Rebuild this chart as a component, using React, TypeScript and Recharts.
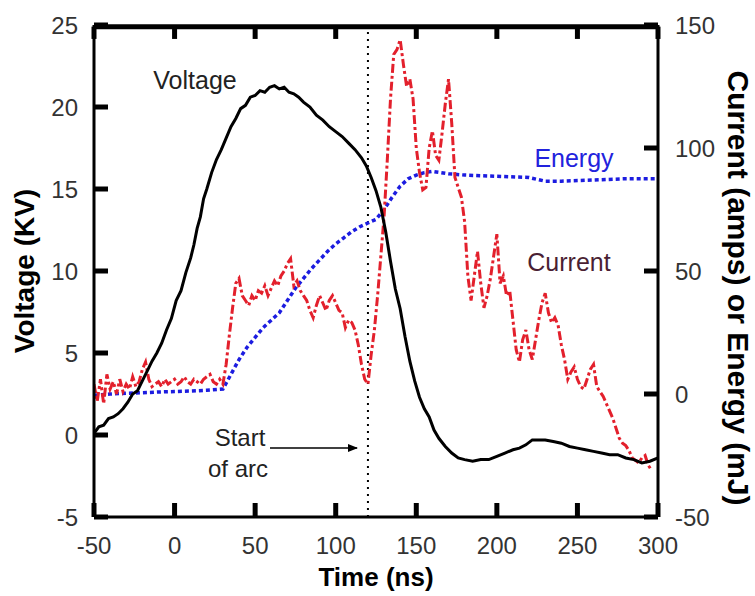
import React from "react"
import { LineChart, Line, XAxis, YAxis, ReferenceLine } from "recharts"

// time axis ticks (ns) and value axis ticks
const timeTicks = [-50, 0, 50, 100, 150, 200, 250, 300]
const voltTicks = [-5, 0, 5, 10, 15, 20, 25]
const ampTicks = [-50, 0, 50, 100, 150]

// Voltage (KV)
const voltTime = [
  -50, -47, -44, -41, -38, -35, -32, -29, -26, -23, -20, -17, -14, -11, -8, -5, -2, 1, 4, 7, 10, 12,
  14, 16, 18, 20, 23, 26, 29, 32, 35, 38, 41, 44, 47, 50, 53, 56, 59, 62, 65, 68, 71, 74, 77, 80, 84,
  88, 92, 96, 100, 104, 108, 112, 116, 119, 122, 125, 128, 131, 134, 137, 140, 143, 146, 149, 152,
  155, 158, 161, 164, 168, 172, 176, 180, 185, 190, 195, 200, 205, 210, 214, 218, 222, 226, 230, 235,
  240, 245, 250, 255, 260, 265, 270, 275, 280, 285, 290, 295, 300,
]
const voltage = [
  0.1, 0.5, 0.6, 1.0, 1.1, 1.3, 1.6, 2.0, 2.5, 2.7, 3.3, 3.9, 4.5, 5.0, 5.6, 6.4, 7.1, 8.2, 8.8, 9.9,
  10.8, 11.6, 12.6, 13.3, 14.4, 15.0, 16.0, 16.8, 17.4, 18.1, 18.8, 19.3, 19.9, 20.1, 20.6, 20.7, 21.0,
  20.9, 21.2, 21.3, 21.1, 21.2, 20.9, 20.8, 20.6, 20.3, 20.0, 19.5, 19.2, 18.8, 18.5, 18.2, 17.8, 17.4,
  16.9, 16.4, 15.7, 14.9, 13.9, 12.4, 10.6, 8.9, 7.7, 6.0, 4.5, 3.3, 2.3, 1.6, 1.1, 0.3, -0.2, -0.7,
  -1.1, -1.4, -1.5, -1.6, -1.5, -1.5, -1.3, -1.1, -0.9, -0.8, -0.6, -0.3, -0.3, -0.3, -0.4, -0.5, -0.7,
  -0.8, -0.9, -1.0, -1.1, -1.2, -1.2, -1.4, -1.5, -1.7, -1.6, -1.4,
]

// Energy (mJ)
const energyTime = [
  -50, -40, -30, -20, -10, 0, 10, 20, 30, 35, 40, 45, 50, 55, 60, 65, 70, 75, 80, 85, 90, 95, 100, 105,
  110, 115, 120, 125, 130, 135, 140, 145, 150, 155, 160, 165, 170, 180, 200, 220, 230, 240, 260, 280, 300,
]
const energy = [
  -0.5, 0, 0.3, 0.5, 0.8, 1, 1.2, 1.5, 2, 8, 14, 19, 23, 27, 30, 33, 38, 43, 47, 51, 54.5, 58, 61, 63.5,
  66, 68, 69.5, 71, 75, 80, 84.5, 87.5, 89, 90, 90.5, 90, 89.5, 89, 88.5, 88, 86.5, 86.5, 87, 87.5, 87.5,
]

// Current (amps)
const currentTime = [
  -50, -48, -46, -44, -42, -40, -38, -36, -34, -32, -30, -28, -26, -24, -22, -20, -18, -16, -14, -12,
  -10, -8, -6, -4, -2, 0, 2, 4, 6, 8, 10, 12, 14, 16, 18, 20, 22, 24, 26, 28, 30, 32, 34, 36, 38, 40,
  42, 44, 46, 48, 50, 52, 54, 56, 58, 60, 62, 64, 66, 68, 70, 72, 74, 76, 78, 80, 82, 84, 86, 88, 90,
  92, 94, 96, 98, 100, 102, 104, 106, 108, 110, 112, 114, 116, 118, 120, 122, 124, 126, 128, 130, 132,
  134, 136, 138, 140, 142, 144, 146, 148, 150, 152, 154, 156, 158, 160, 162, 164, 166, 168, 170, 172,
  174, 176, 178, 180, 182, 184, 186, 188, 190, 192, 194, 196, 198, 200, 202, 204, 206, 208, 210, 212,
  214, 216, 218, 220, 222, 224, 226, 228, 230, 232, 234, 236, 238, 240, 242, 244, 246, 248, 250, 252,
  254, 256, 258, 260, 262, 264, 266, 268, 270, 272, 274, 276, 278, 280, 282, 284, 286, 288, 290, 292,
  294, 296,
]
const current = [
  4, -3, 6, -4, 8, 2, 5, 0, 6, 1, 4, 2, 7, 3, 5, 10, 13, 6, 3, 4,
  5, 3, 6, 4, 5, 6, 4, 5, 7, 5, 4, 6, 5, 4, 6, 7, 8, 5, 4, 6, 4, 12, 24, 35, 45, 47,
  40, 38, 36, 40, 38, 42, 41, 44, 40, 43, 46, 44, 48, 50, 53, 55, 44, 46, 42, 40, 38, 34, 31, 36, 40,
  37, 34, 38, 40, 37, 34, 33, 27, 30, 29, 26, 20, 12, 6, 4, 16, 26, 40, 56, 72, 95,
  120, 138, 140, 144, 134, 125, 128, 120, 100, 90, 83, 84, 100, 107, 97, 95, 106, 118, 128, 110,
  88, 84, 80, 70, 48, 38, 48, 58, 45, 35, 40, 47, 56, 65, 45, 48, 40, 42, 30, 18,
  13, 22, 26, 18, 14, 22, 30, 37, 41, 33, 29, 31, 28, 20, 14, 6, 9, 11, 6, 3,
  2, 6, 10, 12, 3, 1, -1, -4, -7, -10, -14, -18, -20, -21, -23, -26, -27, -28, -26, -25,
  -29, -31,
]

const arcStart = 120

const voltData = voltTime.map((t, i) => ({ t, v: voltage[i] }))
const energyData = energyTime.map((t, i) => ({ t, e: energy[i] }))
const currentData = currentTime.map((t, i) => ({ t, a: current[i] }))

const FONT = "'Liberation Sans', Arial, sans-serif"
const TICK = 14 // inward tick length, px
const TOP_TICK = 0.85 // same length in KV for the top edge ticks
const INK = "#000"

const BottomTick = (props: any) => {
  const { x, y, payload } = props
  return (
    <text x={x} y={y} textAnchor="middle" dominantBaseline="central" fontSize={24} fill="#333" fontFamily={FONT}>
      {payload.value}
    </text>
  )
}

const LeftTick = (props: any) => {
  const { x, y, payload } = props
  return (
    <text x={x} y={y} textAnchor="end" dominantBaseline="central" fontSize={24} fill="#333" fontFamily={FONT}>
      {payload.value}
    </text>
  )
}

const RightTick = (props: any) => {
  const { x, y, payload } = props
  return (
    <text x={x} y={y} textAnchor="start" dominantBaseline="central" fontSize={24} fill="#333" fontFamily={FONT}>
      {payload.value}
    </text>
  )
}

const axisLine = { stroke: "#000", strokeWidth: 3 }
const tickLine = { stroke: INK, strokeWidth: 5 }

export default function App() {
  return (
    <div style={{ position: "absolute", left: 0, top: 0, width: 755, height: 596, background: "#fff" }}>
      <LineChart width={755} height={596} margin={{ top: 25, right: 37, bottom: 39, left: 34 }}>
        <XAxis
          xAxisId="b"
          type="number"
          dataKey="t"
          domain={[-50, 300]}
          ticks={timeTicks}
          interval={0}
          allowDataOverflow
          tickSize={-TICK}
          tickMargin={TICK + 28}
          tick={BottomTick}
          tickLine={tickLine}
          axisLine={axisLine}
          height={40}
        />
        <YAxis
          yAxisId="v"
          type="number"
          domain={[-5, 25]}
          ticks={voltTicks}
          interval={0}
          allowDataOverflow
          tickSize={-TICK}
          tickMargin={TICK + 16}
          tick={LeftTick}
          tickLine={tickLine}
          axisLine={axisLine}
          width={60}
        />
        <YAxis
          yAxisId="i"
          orientation="right"
          type="number"
          domain={[-50, 150]}
          ticks={ampTicks}
          interval={0}
          allowDataOverflow
          tickSize={-TICK}
          tickMargin={TICK + 17}
          tick={RightTick}
          tickLine={tickLine}
          axisLine={axisLine}
          width={60}
        />
        {/* top edge of the frame and its inward ticks */}
        <ReferenceLine xAxisId="b" yAxisId="v" y={24.9} stroke={INK} strokeWidth={5} />
        {timeTicks.map((t) => (
          <ReferenceLine
            key={`top${t}`}
            xAxisId="b"
            yAxisId="v"
            segment={[{ x: t, y: 24.9 }, { x: t, y: 25 - TOP_TICK }]}
            stroke={INK}
            strokeWidth={5}
          />
        ))}
        <ReferenceLine xAxisId="b" yAxisId="v" x={arcStart} stroke="#000" strokeWidth={2} strokeDasharray="2 5" />
        <Line
          data={energyData}
          xAxisId="b"
          yAxisId="i"
          dataKey="e"
          type="linear"
          stroke="#1c1ce0"
          strokeWidth={3.5}
          strokeDasharray="4 3"
          dot={false}
          isAnimationActive={false}
        />
        <Line
          data={currentData}
          xAxisId="b"
          yAxisId="i"
          dataKey="a"
          type="linear"
          stroke="#e3202c"
          strokeWidth={3}
          strokeDasharray="9 3 3 3"
          dot={false}
          isAnimationActive={false}
        />
        <Line
          data={voltData}
          xAxisId="b"
          yAxisId="v"
          dataKey="v"
          type="linear"
          stroke="#000"
          strokeWidth={3}
          dot={false}
          isAnimationActive={false}
        />
      </LineChart>
      <svg width={755} height={596} style={{ position: "absolute", left: 0, top: 0, pointerEvents: "none" }}>
        <defs>
          <marker id="arrow" viewBox="0 0 10 10" refX="9" refY="5" markerWidth="10" markerHeight="10" orient="auto" markerUnits="userSpaceOnUse">
            <path d="M0,1 L10,5 L0,9 z" fill="#000" />
          </marker>
        </defs>
        <text x={195} y={80} textAnchor="middle" dominantBaseline="central" fontSize={25} fill="#222" fontFamily={FONT}>
          Voltage
        </text>
        <text x={574} y={158} textAnchor="middle" dominantBaseline="central" fontSize={25} fill="#2222dd" fontFamily={FONT}>
          Energy
        </text>
        <text x={569} y={262} textAnchor="middle" dominantBaseline="central" fontSize={25} fill="#4a1f33" fontFamily={FONT}>
          Current
        </text>
        <text x={240} y={437} textAnchor="middle" dominantBaseline="central" fontSize={24} fill="#222" fontFamily={FONT}>
          Start
        </text>
        <text x={238} y={468} textAnchor="middle" dominantBaseline="central" fontSize={24} fill="#222" fontFamily={FONT}>
          of arc
        </text>
        <line x1={270} y1={448} x2={357} y2={448} stroke="#000" strokeWidth={1.5} markerEnd="url(#arrow)" />
        <text
          x={0}
          y={0}
          transform="translate(24 271) rotate(-90)"
          textAnchor="middle"
          dominantBaseline="central"
          fontSize={28}
          fontWeight="bold"
          fill="#000"
          fontFamily={FONT}
        >
          Voltage (KV)
        </text>
        <text
          x={0}
          y={0}
          transform="translate(738 288) rotate(90)"
          textAnchor="middle"
          dominantBaseline="central"
          fontSize={30}
          fontWeight="bold"
          fill="#000"
          fontFamily={FONT}
        >
          Current (amps) or Energy (mJ)
        </text>
        <text x={376} y={577} textAnchor="middle" dominantBaseline="central" fontSize={26} fontWeight="bold" fill="#000" fontFamily={FONT}>
          Time (ns)
        </text>
      </svg>
    </div>
  )
}
